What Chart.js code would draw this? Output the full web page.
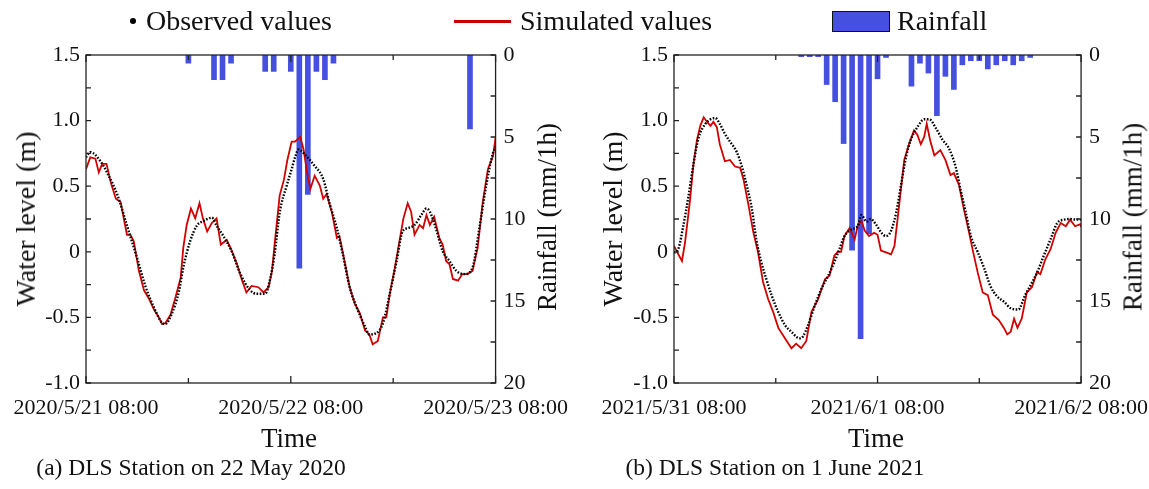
<!DOCTYPE html>
<html>
<head>
<meta charset="utf-8">
<script src="https://cdn.jsdelivr.net/npm/chart.js@4.4.1/dist/chart.umd.min.js"></script>
<style>
  html, body { margin: 0; padding: 0; background: #fff; overflow: hidden; }
  body { width: 1149px; height: 489px; position: relative; font-family: "Liberation Serif", "Times New Roman", serif; color: #111; }
  canvas { position: absolute; top: 0; }
  .txt { position: absolute; white-space: nowrap; line-height: 1; }
  .rot { transform: translate(-50%, -50%) rotate(-90deg); }
  .ctr { transform: translate(-50%, -50%); }
</style>
</head>
<body>
<canvas id="chartA" width="580" height="430" style="left:0"></canvas>
<canvas id="chartB" width="575" height="430" style="left:585px"></canvas>

<!-- legend -->
<div style="position:absolute;left:130px;top:18px;width:6px;height:6px;border-radius:50%;background:#000"></div>
<div class="txt" style="left:146px;top:7px;font-size:28px">Observed values</div>
<div style="position:absolute;left:454px;top:20px;width:57px;height:2.5px;background:#cc0000"></div>
<div class="txt" style="left:520px;top:7px;font-size:28px">Simulated values</div>
<div style="position:absolute;left:832px;top:11px;width:56px;height:19px;background:#4650e0;border:1.5px solid #111"></div>
<div class="txt" style="left:897px;top:7px;font-size:28px">Rainfall</div>

<!-- axis titles -->
<div class="txt rot" style="left:26px;top:219px;font-size:28px">Water level (m)</div>
<div class="txt rot" style="left:547px;top:217px;font-size:27px">Rainfall (mm/1h)</div>
<div class="txt rot" style="left:613px;top:219px;font-size:28px">Water level (m)</div>
<div class="txt rot" style="left:1133px;top:217px;font-size:27px">Rainfall (mm/1h)</div>
<div class="txt ctr" style="left:289px;top:438px;font-size:27px">Time</div>
<div class="txt ctr" style="left:876px;top:438px;font-size:27px">Time</div>
<div class="txt ctr" style="left:191px;top:468px;font-size:23.5px">(a) DLS Station on 22 May 2020</div>
<div class="txt ctr" style="left:775px;top:468px;font-size:23.5px">(b) DLS Station on 1 June 2021</div>

<script>
// ---- (a) 2020/5/21 08:00 -> 2020/5/23 08:00, hours from start ----
const xLabelsA = ['2020/5/21 08:00', '2020/5/22 08:00', '2020/5/23 08:00'];

const obsHoursA = [0, 0.5, 1.7, 2.5, 3.7, 4.8, 6, 7, 8, 8.9, 9.3, 10, 10.9, 11.4, 12.2, 13, 13.8, 14.75, 15.3, 16.1,
  17.1, 18.1, 19.2, 20, 21, 21.6, 22.1, 22.7, 23.5, 24.1, 24.5, 24.9, 25.8, 26.8, 27.8, 28.6, 29.4, 30.1, 30.9, 31.7,
  32.7, 33.2, 34, 34.8, 35.6, 36.4, 37.1, 37.7, 38.5, 39.3, 39.9, 40.3, 41, 41.8, 42.6, 43.4, 44.4, 45.3, 46.1, 46.9, 47.7, 48];
const obsLevelA = [0.72, 0.76, 0.69, 0.6, 0.43, 0.2, -0.05, -0.27, -0.43, -0.54, -0.55, -0.48, -0.3, -0.12, 0.08, 0.2, 0.235, 0.26, 0.2, 0.12,
  0, -0.17, -0.29, -0.32, -0.32, -0.2, -0.02, 0.3, 0.5, 0.63, 0.72, 0.78, 0.73, 0.655, 0.555, 0.355, 0.18, -0.02, -0.27, -0.42,
  -0.57, -0.63, -0.62, -0.545, -0.32, -0.07, 0.155, 0.18, 0.205, 0.28, 0.33, 0.305, 0.18, 0.005, -0.07, -0.145, -0.17, -0.12, 0.18, 0.505, 0.755, 0.8];

const simHoursA = [0, 0.5, 1.1, 1.5, 1.9, 2.4, 2.9, 3.5, 4.05, 4.8, 5.2, 5.6, 6.2, 6.8, 7.4, 8, 8.5, 8.9, 9.3, 9.9,
  10.5, 11.1, 11.4, 11.8, 12.3, 12.8, 13.3, 13.7, 14.2, 14.75, 15.3, 15.8, 16.5, 17.1, 17.7, 18.3, 18.8, 19.4, 20.2, 20.8,
  21.4, 21.8, 22.1, 22.7, 23.2, 23.6, 24.1, 24.5, 25.1, 25.5, 25.9, 26.3, 26.8, 27.4, 27.8, 28.2, 28.8, 29.4, 29.7, 30.3,
  30.9, 31.5, 32.1, 32.7, 33.2, 33.6, 34.2, 34.8, 35.2, 35.6, 36.2, 36.8, 37.2, 37.7, 38.1, 38.5, 39.1, 39.5, 39.9, 40.3,
  40.8, 41.4, 41.8, 42.2, 42.6, 43, 43.6, 44.1, 44.7, 45.3, 45.9, 46.5, 47.1, 47.7, 48];
const simLevelA = [0.63, 0.72, 0.71, 0.605, 0.67, 0.67, 0.53, 0.405, 0.38, 0.13, 0.13, 0.08, -0.145, -0.295, -0.36, -0.445, -0.495, -0.55, -0.545, -0.48,
  -0.345, -0.195, 0.03, 0.205, 0.33, 0.255, 0.37, 0.255, 0.155, 0.22, 0.255, 0.055, 0.09, 0.005, -0.095, -0.22, -0.31, -0.26, -0.27, -0.31,
  -0.27, -0.145, 0.055, 0.43, 0.55, 0.7, 0.84, 0.84, 0.875, 0.78, 0.605, 0.48, 0.58, 0.505, 0.405, 0.44, 0.305, 0.105, 0.12, -0.07,
  -0.27, -0.395, -0.47, -0.6, -0.63, -0.705, -0.68, -0.5, -0.5, -0.32, -0.12, 0.105, 0.255, 0.37, 0.305, 0.13, 0.205, 0.18, 0.28, 0.205,
  0.267, 0.105, 0.055, -0.07, -0.095, -0.207, -0.22, -0.17, -0.17, -0.145, 0.03, 0.38, 0.63, 0.73, 0.87];

const rainHoursA = [12, 15, 16, 17, 21, 22, 24, 25, 26, 27, 28, 29, 45];
const rainA = [0.5, 1.5, 1.5, 0.5, 1.0, 1.0, 1.0, 13.0, 8.5, 1.0, 1.5, 0.5, 4.5];

// ---- (b) 2021/5/31 08:00 -> 2021/6/2 08:00 ----
const xLabelsB = ['2021/5/31 08:00', '2021/6/1 08:00', '2021/6/2 08:00'];

const obsHoursB = [0, 0.55, 1.1, 1.7, 2.3, 2.9, 3.7, 4.3, 4.85, 5.4, 6, 6.6, 7.4, 8, 8.6, 9.2, 9.7, 10.3, 10.9, 11.5,
  12.3, 13.1, 13.85, 14.8, 15.2, 15.8, 16.6, 17.4, 18.2, 18.9, 19.5, 20.1, 20.9, 21.7, 22.1, 22.7, 23.2, 23.8, 24.4, 25,
  25.6, 26.2, 26.8, 27.35, 27.9, 28.7, 29.5, 30.1, 30.9, 31.7, 32.4, 33.2, 33.8, 34.4, 35, 35.8, 36.6, 37.3, 38.1, 38.9,
  39.7, 40.6, 41.4, 42, 42.8, 43.6, 44.4, 45.2, 46, 46.7, 47.5, 48];
const obsLevelB = [-0.01, 0.03, 0.2, 0.42, 0.67, 0.87, 0.975, 1.01, 1.02, 0.975, 0.9, 0.84, 0.76, 0.65, 0.5, 0.32, 0.095, -0.08, -0.21, -0.33,
  -0.46, -0.56, -0.61, -0.66, -0.645, -0.56, -0.41, -0.28, -0.18, -0.08, 0.02, 0.12, 0.17, 0.2, 0.28, 0.23, 0.25, 0.21, 0.15, 0.12,
  0.16, 0.3, 0.52, 0.72, 0.85, 0.95, 1.01, 1.01, 0.94, 0.85, 0.79, 0.65, 0.47, 0.3, 0.12, 0, -0.13, -0.26, -0.34, -0.38,
  -0.43, -0.44, -0.33, -0.26, -0.16, -0.03, 0.095, 0.22, 0.245, 0.25, 0.245, 0.245];

const simHoursB = [0, 0.35, 0.94, 1.3, 1.9, 2.3, 2.7, 3.1, 3.5, 3.9, 4.3, 4.65, 5.05, 5.4, 6, 6.6, 7.2, 7.8, 8.2, 8.8,
  9.35, 9.9, 10.5, 11.1, 11.7, 12.3, 13.1, 13.85, 14.4, 15, 15.6, 16.2, 17, 17.8, 18.35, 18.9, 19.3, 19.7, 20.1, 20.7,
  21.3, 21.7, 22.1, 22.5, 23, 23.6, 24, 24.4, 25, 25.6, 26, 26.4, 26.8, 27.15, 27.7, 28.3, 28.7, 29.1, 29.5, 29.8,
  30.2, 30.7, 31.4, 32, 32.6, 33, 33.6, 34.2, 34.8, 35.2, 35.8, 36.4, 37, 37.6, 38.3, 38.9, 39.3, 39.7, 40.1, 40.5,
  41, 41.6, 42.2, 42.8, 43.2, 43.8, 44.4, 45, 45.6, 46.2, 46.7, 47.3, 47.9, 48];
const simLevelB = [0.045, 0, -0.07, 0.07, 0.4, 0.67, 0.85, 0.96, 1.025, 0.99, 0.96, 0.99, 0.95, 0.82, 0.69, 0.7, 0.65, 0.64, 0.55, 0.35,
  0.15, 0, -0.23, -0.36, -0.46, -0.58, -0.66, -0.735, -0.7, -0.735, -0.68, -0.46, -0.36, -0.21, -0.18, -0.03, 0, 0, 0.12, 0.18,
  0.095, 0.21, 0.235, 0.16, 0.12, 0.145, 0.13, 0.01, -0.005, -0.02, 0.045, 0.27, 0.5, 0.7, 0.82, 0.925, 0.89, 0.82, 0.875, 0.975,
  0.85, 0.735, 0.775, 0.7, 0.585, 0.6, 0.51, 0.32, 0.145, 0.02, -0.155, -0.31, -0.33, -0.48, -0.52, -0.58, -0.63, -0.61, -0.51, -0.58,
  -0.51, -0.31, -0.27, -0.155, -0.17, -0.055, 0.02, 0.145, 0.22, 0.195, 0.245, 0.195, 0.21, 0.19];

const rainHoursB = [15, 16, 17, 18, 19, 20, 21, 22, 23, 24, 25, 28, 29, 30, 31, 32, 33, 34, 35, 36, 37, 38, 39, 40, 41, 42];
const rainB = [0.1, 0.1, 0.1, 1.8, 2.85, 5.4, 11.9, 17.3, 10.9, 1.45, 0.15, 1.9, 0.5, 1.1, 3.7, 1.3, 2.1, 0.6, 0.35, 0.35, 0.85, 0.6, 0.35, 0.6, 0.35, 0.15];

const BLUE = '#4650e0';
const RED = '#d10000';
const TICK_FONT = { family: '"Liberation Serif", "Times New Roman", serif', size: 22 };

const pts = (xs, ys) => xs.map((x, i) => ({ x, y: ys[i] }));

// frame + inward tick marks (major and minor), like the original plot
const frameTicks = {
  id: 'frameTicks',
  afterDraw(chart) {
    const { ctx, chartArea: a, scales } = chart;
    const { x, y, y1 } = scales;
    ctx.save();
    ctx.strokeStyle = '#222';
    ctx.lineWidth = 1.3;
    ctx.strokeRect(a.left, a.top, a.right - a.left, a.bottom - a.top);
    ctx.beginPath();
    for (let h = 0; h <= 48; h += 12) {
      const px = x.getPixelForValue(h);
      const len = h % 24 === 0 ? 7 : 5;
      ctx.moveTo(px, a.bottom); ctx.lineTo(px, a.bottom - len);
      ctx.moveTo(px, a.top); ctx.lineTo(px, a.top + len);
    }
    for (let v = -1; v <= 1.5001; v += 0.25) {
      const py = y.getPixelForValue(v);
      ctx.moveTo(a.left, py); ctx.lineTo(a.left + 5, py);
    }
    for (let r = 0; r <= 20.001; r += 2.5) {
      const py = y1.getPixelForValue(r);
      ctx.moveTo(a.right, py); ctx.lineTo(a.right - 5, py);
    }
    ctx.stroke();
    ctx.restore();
  },
};

function makeChart(id, xLabels, obsH, obsV, simH, simV, rainH, rain, leftW, rightW) {
  const ctx = document.getElementById(id).getContext('2d');
  return new Chart(ctx, {
    type: 'bar',
    data: {
      datasets: [
        {
          type: 'line', label: 'Observed values', data: pts(obsH, obsV), yAxisID: 'y', order: 0,
          borderColor: '#000', borderWidth: 2.4, borderDash: [1.6, 1.6], pointRadius: 0,
          cubicInterpolationMode: 'monotone', fill: false,
        },
        {
          type: 'line', label: 'Simulated values', data: pts(simH, simV), yAxisID: 'y', order: 1,
          borderColor: RED, borderWidth: 1.8, pointRadius: 0, tension: 0, fill: false,
        },
        {
          type: 'bar', label: 'Rainfall', data: pts(rainH, rain), yAxisID: 'y1', order: 2,
          backgroundColor: BLUE, borderWidth: 0, barThickness: 5,
        },
      ],
    },
    options: {
      responsive: false, animation: false,
      layout: { padding: { top: 55, left: 0, right: 0, bottom: 0 } },
      plugins: { legend: { display: false }, tooltip: { enabled: false } },
      scales: {
        x: {
          type: 'linear', min: 0, max: 48, offset: false,
          afterBuildTicks: (s) => { s.ticks = [0, 24, 48].map(v => ({ value: v })); },
          afterFit: (s) => { s.height = 47; },
          grid: { display: false, drawTicks: false }, border: { display: false },
          ticks: {
            autoSkip: false, maxRotation: 0, padding: 12, color: '#111', font: TICK_FONT,
            callback: (v) => xLabels[v / 24],
          },
        },
        y: {
          position: 'left', min: -1, max: 1.5,
          afterBuildTicks: (s) => { s.ticks = [-1, -0.5, 0, 0.5, 1, 1.5].map(v => ({ value: v })); },
          afterFit: (s) => { s.width = leftW; },
          grid: { display: false, drawTicks: false }, border: { display: false },
          ticks: {
            padding: 6, color: '#111', font: TICK_FONT,
            callback: (v) => (v === 0 ? '0' : v.toFixed(1)),
          },
        },
        y1: {
          position: 'right', min: 0, max: 20, reverse: true,
          afterBuildTicks: (s) => { s.ticks = [0, 5, 10, 15, 20].map(v => ({ value: v })); },
          afterFit: (s) => { s.width = rightW; },
          grid: { display: false, drawTicks: false }, border: { display: false },
          ticks: { padding: 8, color: '#111', font: TICK_FONT },
        },
      },
    },
    plugins: [frameTicks],
  });
}

makeChart('chartA', xLabelsA, obsHoursA, obsLevelA, simHoursA, simLevelA, rainHoursA, rainA, 86, 83);
makeChart('chartB', xLabelsB, obsHoursB, obsLevelB, simHoursB, simLevelB, rainHoursB, rainB, 89, 77);
</script>
</body>
</html>
